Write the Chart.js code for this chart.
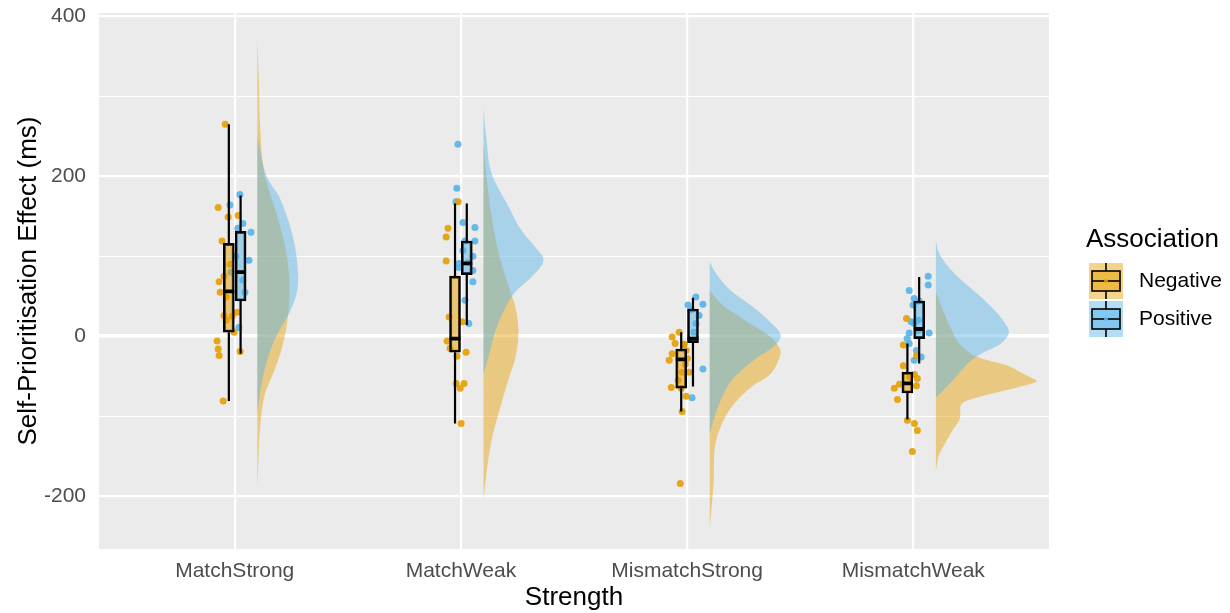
<!DOCTYPE html>
<html>
<head>
<meta charset="utf-8">
<script src="https://cdn.jsdelivr.net/npm/chart.js@4.4.1/dist/chart.umd.min.js"></script>
<style>
  html, body { margin: 0; padding: 0; background: #fff; }
  canvas { display: block; }
</style>
</head>
<body>
<canvas id="chart" width="1230" height="613"></canvas>
<script>
// ---- data ----
const categories = ['MatchStrong', 'MatchWeak', 'MismatchStrong', 'MismatchWeak'];
const groups = ['Negative', 'Positive'];
const yTickValues = [-200, -100, 0, 100, 200, 300, 400];

// box stats per category: [lower whisker, Q1, median, Q3, upper whisker]
const negBox = [[-81, 5, 56, 116, 265], [-109, -20, -3, 75, 166], [-94, -65, -29, -16, 5], [-104, -71, -59, -45, -9]];
const posBox = [[-22, 44, 80, 131, 176], [14, 77, 91, 119, 166], [-63, -8, -3, 34, 48], [-34, -3, 9, 44, 74]];

// individual points (ms) and their horizontal jitter
const negPoints = [
  [265, 161, 149, 151, 119, 75, 68, 55, 49, 26, 25, 30, 5, -6, -16, -24, -19, -81, 20, 90],
  [168, 135, 124, 94, 24, 18, -6, -15, -25, -20, -59, -59, -65, -109],
  [-1, -9, 5, -18, -28, -30, -22, -35, -45, -45, -64, -65, -75, -94, -184, -55, -10],
  [22, -11, -24, -37, -48, -53, -51, -62, -65, -79, -105, -109, -118, -144, -60]
];
const negJitter = [
  [-0.016, -0.047, -0.003, 0.041, -0.030, -0.021, -0.043, -0.038, -0.012, -0.021, 0.015, 0.037, 0.023, -0.052, -0.047, -0.043, 0.050, -0.025, -0.012, 0.006],
  [0.014, -0.031, -0.039, -0.039, -0.026, 0.031, -0.035, -0.022, 0.009, 0.049, 0.005, 0.040, 0.023, 0.027],
  [-0.040, -0.027, -0.009, 0.022, 0.027, -0.053, -0.040, 0.018, 0.004, 0.035, -0.044, 0.000, 0.022, 0.004, -0.004, -0.013, 0.013],
  [-0.004, -0.018, 0.040, -0.018, 0.031, 0.044, 0.009, 0.040, -0.058, -0.044, 0.000, 0.031, 0.044, 0.022, -0.035]
];
const posPoints = [
  [177, 164, 141, 135, 130, 80, 70, 55, 11, 100, 95],
  [240, 185, 168, 142, 136, 119, 119, 107, 91, 100, 82, 68, 45, 16, 86, 92],
  [49, 39, 40, 33, 26, 16, -11, -41, -77, 5],
  [75, 64, 57, 47, 44, 39, 18, 16, 20, 4, -3, -9, -18, -26, -30, 7, 4]
];
const posJitter = [
  [-0.003, -0.047, 0.010, -0.012, 0.046, -0.043, 0.010, 0.019, -0.008, -0.021, 0.037],
  [-0.039, -0.044, -0.048, -0.017, 0.036, -0.008, 0.036, -0.017, -0.035, 0.027, 0.027, 0.027, -0.008, 0.009, -0.035, 0.005],
  [0.013, -0.022, 0.044, -0.009, 0.027, 0.013, -0.040, 0.044, -0.004, 0.004],
  [0.040, 0.040, -0.044, -0.022, 0.000, -0.027, -0.035, -0.022, -0.004, -0.044, -0.053, -0.044, -0.013, 0.009, -0.022, -0.004, 0.044]
];

// half-violin outlines: y levels (ms) and relative density width
const negDensY = [
  [372, 320, 257, 204, 154, 111, 70, 29, -13, -43, -75, -118, -160, -189],
  [240, 200, 150, 100, 55, 36, 5, -26, -54, -88, -130, -171, -205],
  [57, 40, 20, 0, -13, -22, -47, -64, -85, -110, -140, -180, -212, -241],
  [55, 30, 10, -10, -25, -37, -50, -56, -62, -69, -80, -86, -103, -117, -132, -149, -168]
];
const negDens = [
  [0, 0.015, 0.03, 0.07, 0.19, 0.28, 0.32, 0.31, 0.25, 0.17, 0.07, 0.025, 0.01, 0],
  [0, 0.03, 0.08, 0.16, 0.27, 0.32, 0.35, 0.32, 0.25, 0.17, 0.08, 0.03, 0],
  [0, 0.12, 0.35, 0.60, 0.69, 0.71, 0.61, 0.41, 0.24, 0.12, 0.05, 0.04, 0.02, 0],
  [0, 0.08, 0.15, 0.24, 0.40, 0.72, 0.92, 1.01, 0.88, 0.65, 0.32, 0.25, 0.24, 0.17, 0.10, 0.03, 0]
];
const posDensY = [
  [251, 201, 174, 132, 91, 57, 29, 7, -18, -55, -96],
  [285, 245, 204, 162, 132, 111, 95, 74, 57, 36, 7, -26, -47],
  [93, 79, 57, 36, 16, 1, -13, -30, -55, -80, -101, -121],
  [119, 104, 83, 62, 41, 20, 5, -9, -22, -34, -55, -77]
];
const posDens = [
  [0, 0.09, 0.22, 0.34, 0.40, 0.40, 0.32, 0.22, 0.13, 0.05, 0],
  [0, 0.03, 0.08, 0.25, 0.38, 0.52, 0.60, 0.48, 0.33, 0.22, 0.12, 0.05, 0],
  [0, 0.06, 0.21, 0.44, 0.62, 0.71, 0.64, 0.44, 0.22, 0.11, 0.05, 0],
  [0, 0.03, 0.15, 0.33, 0.52, 0.67, 0.73, 0.65, 0.45, 0.32, 0.17, 0]
];

// ---- styling ----
const ORANGE = [230, 159, 0];
const BLUE = [86, 180, 233];
const rgba = (c, a) => `rgba(${c[0]},${c[1]},${c[2]},${a})`;
const FONT = '"Liberation Sans", Arial, Helvetica, sans-serif';
const DODGE = 0.026, BOX_HALF = 0.024, VIOLIN_BASE = 0.1, VIOLIN_SCALE = 0.442;

const violin = (ci, ys, ws) => ys.map((y, i) => ({ x: ci + 1 + VIOLIN_BASE + ws[i] * VIOLIN_SCALE, y }));
const pts = (vals, jit, off) => vals.flatMap((v, ci) => v.map((y, i) => ({ x: ci + 1 + off + jit[ci][i], y })));

const whiskers = (boxes, off) => boxes.flatMap((b, ci) => {
  const x = ci + 1 + off;
  return [{ x, y: b[0] }, { x, y: b[1] }, { x, y: null }, { x, y: b[3] }, { x, y: b[4] }, { x, y: null }];
});
const medians = (boxes, off) => boxes.flatMap((b, ci) => {
  const x = ci + 1 + off;
  return [{ x: x - BOX_HALF, y: b[2] }, { x: x + BOX_HALF, y: b[2] }, { x, y: null }];
});

const datasets = [];
categories.forEach((c, ci) => {
  datasets.push({
    type: 'line', data: violin(ci, negDensY[ci], negDens[ci]), fill: 'shape',
    backgroundColor: rgba(ORANGE, 0.45), borderWidth: 0, pointRadius: 0, tension: 0.35, order: 60
  });
  datasets.push({
    type: 'line', data: violin(ci, posDensY[ci], posDens[ci]), fill: 'shape',
    backgroundColor: rgba(BLUE, 0.45), borderWidth: 0, pointRadius: 0, tension: 0.35, order: 55
  });
});

datasets.push({ type: 'scatter', data: pts(negPoints, negJitter, -DODGE), backgroundColor: rgba(ORANGE, 0.9), pointRadius: 3.5, borderWidth: 0, order: 40 });
datasets.push({ type: 'scatter', data: pts(posPoints, posJitter, DODGE), backgroundColor: rgba(BLUE, 0.9), pointRadius: 3.5, borderWidth: 0, order: 41 });

[[negBox, -DODGE], [posBox, DODGE]].forEach(([b, off]) => {
  datasets.push({ type: 'line', data: whiskers(b, off), borderColor: '#000', borderWidth: 2.2, pointRadius: 0, spanGaps: false, fill: false, tension: 0, order: 30 });
});

datasets.push({
  type: 'bar', data: negBox.map((b, ci) => ({ x: ci + 1 - DODGE, y: [b[1], b[3]] })),
  backgroundColor: rgba(ORANGE, 0.5), borderColor: '#000', borderWidth: 2.2, borderSkipped: false,
  barThickness: 11, grouped: false, order: 20
});
datasets.push({
  type: 'bar', data: posBox.map((b, ci) => ({ x: ci + 1 + DODGE, y: [b[1], b[3]] })),
  backgroundColor: rgba(BLUE, 0.5), borderColor: '#000', borderWidth: 2.2, borderSkipped: false,
  barThickness: 11, grouped: false, order: 20
});

[[negBox, -DODGE], [posBox, DODGE]].forEach(([b, off]) => {
  datasets.push({ type: 'line', data: medians(b, off), borderColor: '#000', borderWidth: 3.8, pointRadius: 0, spanGaps: false, fill: false, tension: 0, order: 10 });
});

const panelBg = {
  id: 'panelBg',
  beforeDraw(chart) {
    const { ctx, chartArea: a } = chart;
    ctx.save();
    ctx.fillStyle = '#fff';
    ctx.fillRect(0, 0, chart.width, chart.height);
    ctx.fillStyle = '#EBEBEB';
    ctx.fillRect(a.left, a.top, a.right - a.left, a.bottom - a.top);
    ctx.restore();
  }
};

const legendBox = {
  id: 'legendBox',
  afterDraw(chart) {
    const { ctx } = chart;
    ctx.save();
    ctx.fillStyle = '#000';
    ctx.font = `26px ${FONT}`;
    ctx.textBaseline = 'middle';
    ctx.textAlign = 'left';
    ctx.fillText('Association', 1086, 240);
    [ORANGE, BLUE].forEach((col, i) => {
      const top = 263 + i * 38, left = 1089, w = 34, h = 36;
      const cx = left + w / 2, cy = top + h / 2;
      ctx.fillStyle = rgba(col, 0.45);
      ctx.fillRect(left, top, w, h);
      ctx.strokeStyle = '#000';
      ctx.lineWidth = 1.6;
      ctx.beginPath();
      ctx.moveTo(cx, top); ctx.lineTo(cx, top + 8);
      ctx.moveTo(cx, top + h - 8); ctx.lineTo(cx, top + h);
      ctx.stroke();
      ctx.fillStyle = rgba(col, 0.5);
      ctx.fillRect(left + 3, top + 8, w - 6, h - 16);
      ctx.strokeRect(left + 3, top + 8, w - 6, h - 16);
      ctx.beginPath();
      ctx.moveTo(left + 3, cy); ctx.lineTo(left + w - 3, cy);
      ctx.stroke();
      ctx.fillStyle = rgba(col, 0.9);
      ctx.beginPath(); ctx.arc(cx, cy, 2, 0, Math.PI * 2); ctx.fill();
      ctx.fillStyle = '#000';
      ctx.font = `21px ${FONT}`;
      ctx.fillText(groups[i], 1139, cy);
    });
    ctx.restore();
  }
};

new Chart(document.getElementById('chart'), {
  type: 'scatter',
  data: { datasets },
  options: {
    responsive: false,
    animation: false,
    devicePixelRatio: 1,
    events: [],
    layout: { padding: { top: 13, right: 181, left: 0, bottom: 0 } },
    plugins: { legend: { display: false }, tooltip: { enabled: false } },
    scales: {
      x: {
        type: 'linear', min: 0.4, max: 4.6, offset: false,
        afterBuildTicks: s => { s.ticks = categories.map((c, i) => ({ value: i + 1 })); },
        afterFit: s => { s.height = 64; s.paddingLeft = 0; s.paddingRight = 0; },
        ticks: {
          callback: v => categories[Math.round(v) - 1], autoSkip: false, maxRotation: 0,
          color: '#4D4D4D', font: { family: FONT, size: 21 }, padding: 10
        },
        grid: { color: '#fff', lineWidth: 2.2, drawTicks: false, offset: false },
        border: { display: false },
        title: { display: true, text: 'Strength', color: '#000', font: { family: FONT, size: 26 }, padding: { top: 0, bottom: 0 } }
      },
      y: {
        type: 'linear', min: -266, max: 404,
        afterBuildTicks: s => { s.ticks = yTickValues.map(v => ({ value: v })); },
        afterFit: s => { s.width = 99; s.paddingTop = 0; s.paddingBottom = 0; },
        ticks: {
          callback: v => (v % 200 === 0 ? String(v) : ''),
          color: '#4D4D4D', font: { family: FONT, size: 21 }, padding: 13
        },
        grid: {
          color: '#fff', drawTicks: false, offset: false,
          lineWidth: c => (c.tick && c.tick.value === 0 ? 3.5 : (c.tick && c.tick.value % 200 === 0 ? 2.2 : 1.1))
        },
        border: { display: false },
        title: { display: true, text: 'Self-Prioritisation Effect (ms)', color: '#000', font: { family: FONT, size: 26 }, padding: { top: 13, bottom: 0 } }
      }
    }
  },
  plugins: [panelBg, legendBox]
});
</script>
</body>
</html>
